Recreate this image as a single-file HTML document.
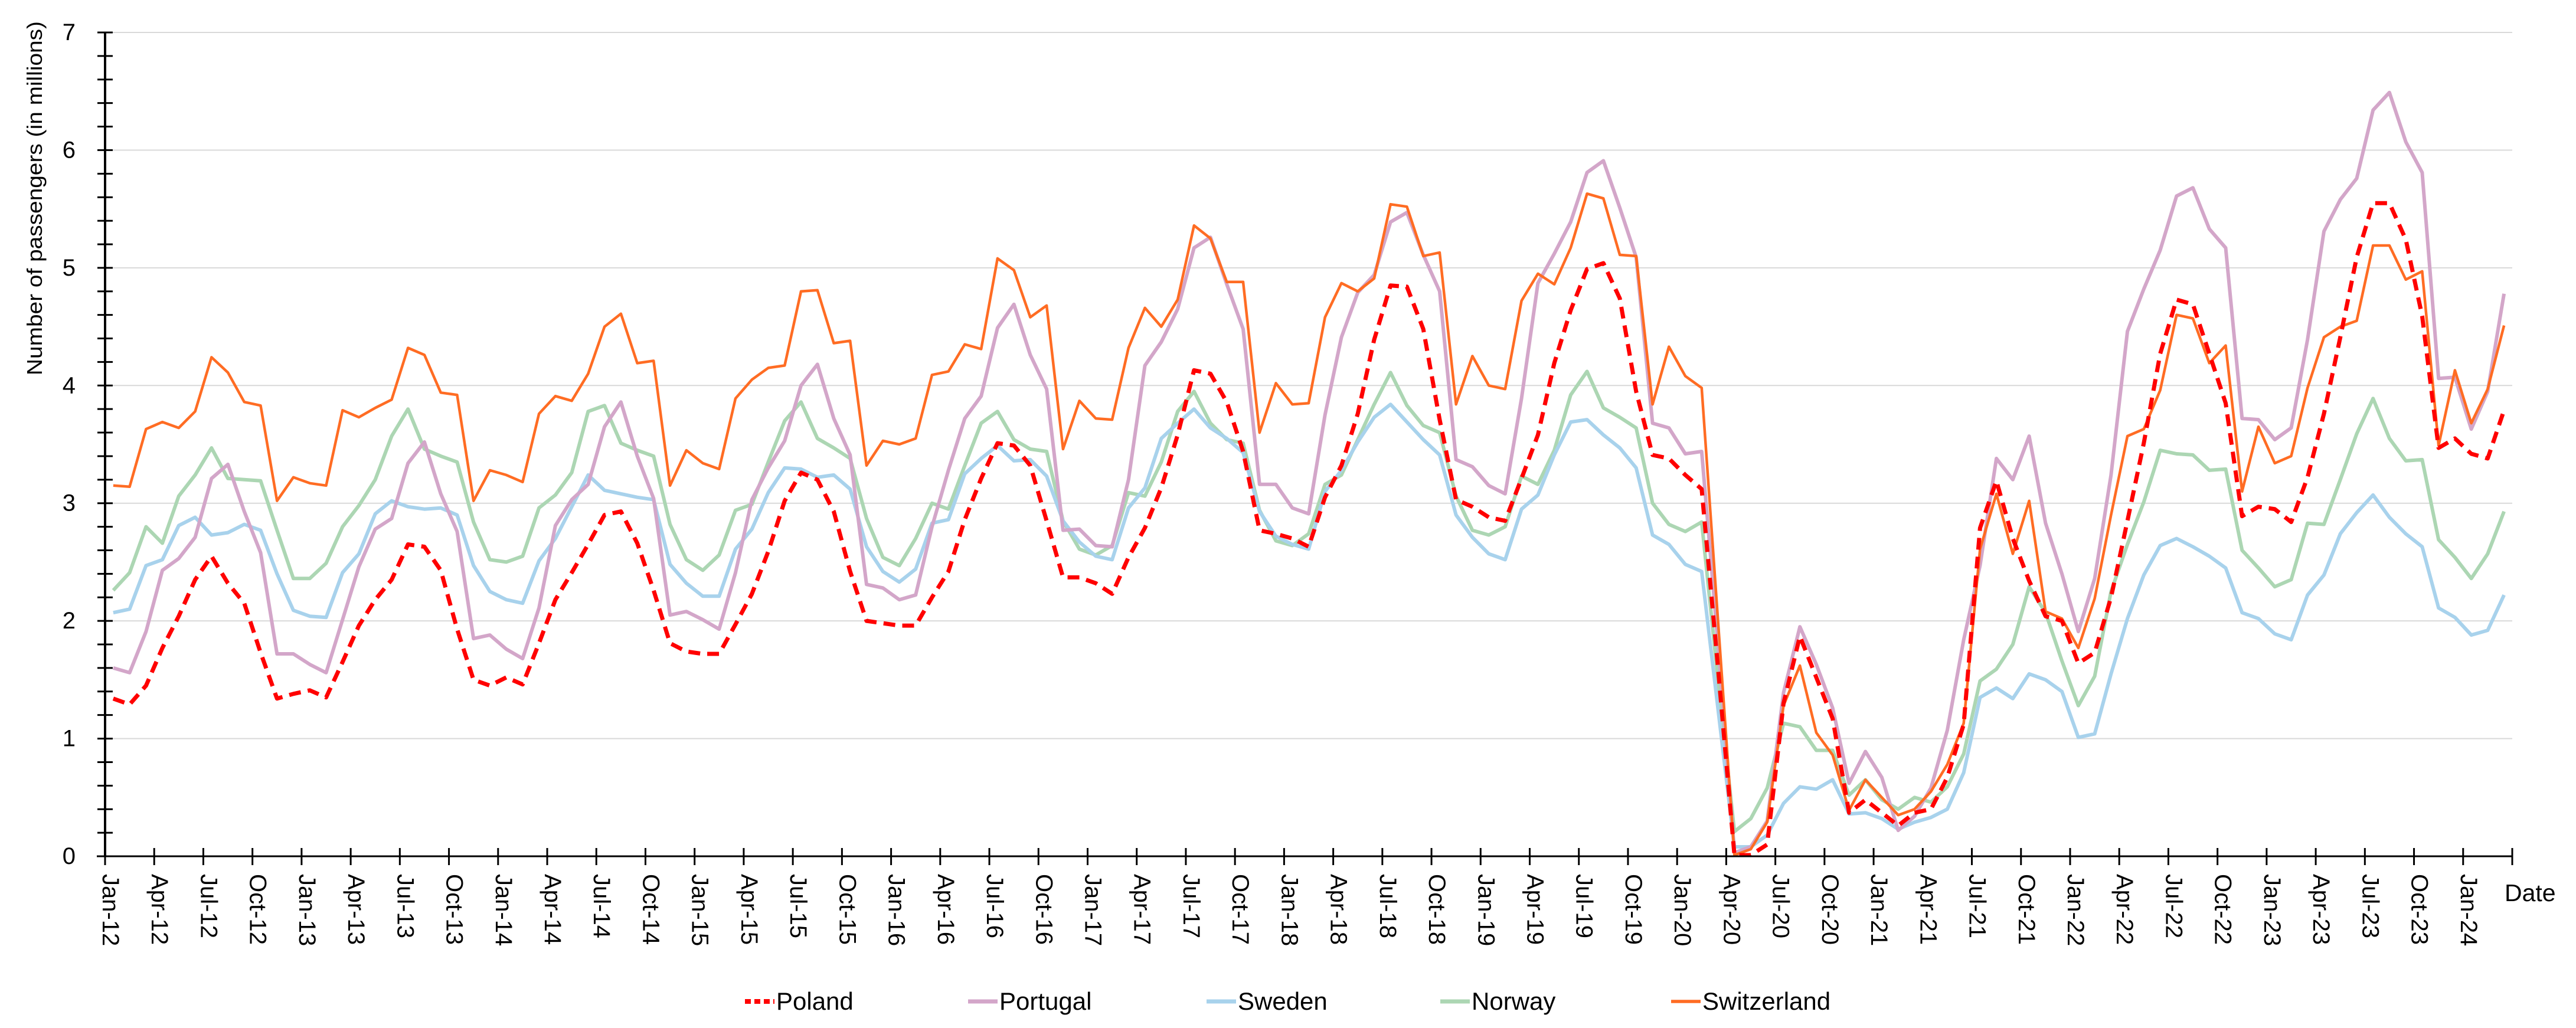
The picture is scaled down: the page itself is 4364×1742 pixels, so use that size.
<!DOCTYPE html>
<html><head><meta charset="utf-8"><style>
html,body{margin:0;padding:0;background:#fff;}
svg{display:block;font-family:"Liberation Sans",sans-serif;}
</style></head><body>
<svg id="chart" width="4364" height="1742" viewBox="0 0 4364 1742" xmlns="http://www.w3.org/2000/svg">
<g id="grid"></g>
<g id="series"></g>
<g id="axes"></g>
<text transform="translate(71,336) rotate(-90)" text-anchor="middle" font-size="36" textLength="600" lengthAdjust="spacingAndGlyphs">Number of passengers (in millions)</text>
<text x="4243" y="1527" font-size="41">Date</text>
<g id="legend"></g>
</svg>
<script>
const seriesNames = ["Poland","Portugal","Sweden","Norway","Switzerland"];
const yTicks = [0,1,2,3,4,5,6,7];
const monthNames = ["Jan","Apr","Jul","Oct"];
const poland = [1.34,1.29,1.45,1.77,2.04,2.35,2.55,2.32,2.15,1.73,1.34,1.38,1.41,1.35,1.65,1.96,2.18,2.35,2.65,2.63,2.43,1.93,1.50,1.45,1.52,1.46,1.81,2.18,2.41,2.65,2.90,2.93,2.66,2.26,1.81,1.74,1.72,1.72,
1.97,2.23,2.59,3.02,3.26,3.20,2.93,2.42,2.00,1.98,1.96,1.96,2.20,2.42,2.86,3.21,3.51,3.49,3.32,2.85,2.37,2.37,2.32,2.23,2.54,2.79,3.13,3.58,4.13,4.10,3.86,3.44,2.77,2.74,2.70,2.63,3.05,
3.32,3.76,4.39,4.85,4.84,4.48,3.71,3.03,2.97,2.88,2.85,3.21,3.58,4.19,4.64,4.99,5.04,4.74,3.95,3.41,3.38,3.24,3.12,1.6,0.01,0.01,0.10,1.30,1.87,1.52,1.17,0.37,0.48,0.37,0.26,0.37,
0.40,0.67,1.12,2.79,3.19,2.70,2.34,2.04,2.00,1.64,1.73,2.20,2.85,3.51,4.27,4.73,4.69,4.27,3.85,2.89,2.97,2.95,2.84,3.22,3.76,4.41,5.09,5.55,5.55,5.24,4.59,3.47,3.55,3.42,3.38,3.79];
const portugal = [1.60,1.56,1.91,2.43,2.53,2.71,3.21,3.33,2.93,2.58,1.72,1.72,1.63,1.56,2.01,2.46,2.78,2.87,3.34,3.52,3.08,2.76,1.85,1.88,1.76,1.68,2.11,2.81,3.03,3.16,3.65,3.86,3.40,3.04,2.05,2.08,2.01,1.93,
2.41,3.03,3.30,3.53,4.00,4.18,3.72,3.41,2.31,2.28,2.18,2.22,2.80,3.28,3.72,3.91,4.49,4.69,4.26,3.97,2.77,2.78,2.64,2.63,3.20,4.17,4.37,4.65,5.17,5.26,4.86,4.48,3.16,3.16,2.96,2.91,3.75,
4.41,4.79,4.94,5.39,5.47,5.11,4.80,3.37,3.31,3.15,3.08,3.89,4.87,5.12,5.39,5.81,5.91,5.51,5.09,3.68,3.64,3.42,3.44,1.8,0.03,0.08,0.30,1.39,1.95,1.63,1.26,0.62,0.89,0.67,0.22,0.34,
0.58,1.07,1.84,2.47,3.38,3.20,3.57,2.83,2.40,1.91,2.36,3.24,4.46,4.82,5.15,5.61,5.68,5.33,5.17,3.72,3.71,3.54,3.64,4.39,5.31,5.58,5.76,6.34,6.49,6.07,5.81,4.06,4.07,3.63,3.95,4.78];
const sweden = [2.07,2.10,2.47,2.52,2.81,2.88,2.73,2.75,2.82,2.77,2.40,2.09,2.04,2.03,2.41,2.57,2.91,3.02,2.97,2.95,2.96,2.90,2.47,2.25,2.18,2.15,2.51,2.70,2.97,3.24,3.11,3.08,3.05,3.03,2.48,2.32,2.21,2.21,
2.61,2.78,3.09,3.30,3.29,3.22,3.24,3.12,2.63,2.42,2.33,2.44,2.83,2.86,3.25,3.38,3.49,3.36,3.37,3.23,2.85,2.67,2.55,2.52,2.96,3.13,3.55,3.68,3.80,3.64,3.55,3.43,2.93,2.72,2.65,2.61,3.10,
3.28,3.52,3.73,3.84,3.69,3.54,3.41,2.90,2.71,2.57,2.52,2.95,3.07,3.41,3.69,3.71,3.58,3.47,3.30,2.73,2.65,2.48,2.42,1.25,0.08,0.08,0.18,0.45,0.59,0.57,0.65,0.36,0.37,0.32,0.23,0.29,
0.33,0.40,0.71,1.35,1.43,1.34,1.55,1.50,1.40,1.01,1.04,1.55,2.02,2.39,2.64,2.70,2.63,2.55,2.45,2.07,2.02,1.89,1.84,2.22,2.39,2.74,2.92,3.07,2.88,2.74,2.63,2.11,2.03,1.88,1.92,2.22];
const norway = [2.26,2.41,2.80,2.66,3.06,3.24,3.47,3.21,3.20,3.19,2.77,2.36,2.36,2.49,2.80,2.98,3.20,3.57,3.80,3.46,3.40,3.35,2.84,2.52,2.50,2.55,2.96,3.07,3.26,3.78,3.83,3.51,3.45,3.40,2.82,2.52,2.43,2.56,
2.94,2.99,3.35,3.70,3.86,3.55,3.47,3.38,2.87,2.54,2.47,2.70,3.00,2.95,3.32,3.68,3.78,3.54,3.46,3.44,2.85,2.61,2.56,2.64,3.09,3.06,3.35,3.78,3.95,3.68,3.54,3.51,2.94,2.68,2.64,2.74,3.16,
3.24,3.54,3.84,4.11,3.83,3.66,3.60,3.06,2.77,2.73,2.80,3.23,3.16,3.45,3.92,4.12,3.81,3.73,3.64,3.00,2.82,2.76,2.84,1.5,0.21,0.32,0.58,1.13,1.10,0.90,0.90,0.52,0.65,0.48,0.40,0.50,
0.46,0.59,0.87,1.49,1.59,1.80,2.29,2.07,1.66,1.28,1.53,2.25,2.65,3.01,3.45,3.42,3.41,3.28,3.29,2.60,2.45,2.29,2.35,2.83,2.82,3.20,3.59,3.89,3.55,3.36,3.37,2.69,2.54,2.36,2.57,2.93];
const switzerland = [3.15,3.14,3.63,3.69,3.64,3.78,4.24,4.11,3.86,3.83,3.02,3.22,3.17,3.15,3.79,3.73,3.81,3.88,4.32,4.26,3.94,3.92,3.02,3.28,3.24,3.18,3.76,3.91,3.87,4.10,4.50,4.61,4.19,4.21,3.15,3.45,3.34,3.29,
3.89,4.05,4.15,4.17,4.80,4.81,4.36,4.38,3.32,3.53,3.50,3.55,4.09,4.12,4.35,4.31,5.08,4.98,4.58,4.68,3.46,3.87,3.72,3.71,4.32,4.66,4.50,4.73,5.36,5.25,4.88,4.88,3.60,4.02,3.84,3.85,4.58,
4.87,4.80,4.91,5.54,5.52,5.10,5.13,3.84,4.25,4.00,3.97,4.72,4.95,4.86,5.17,5.63,5.59,5.11,5.10,3.84,4.33,4.08,3.98,2.0,0.01,0.06,0.29,1.28,1.62,1.05,0.86,0.39,0.65,0.50,0.35,0.40,
0.55,0.78,1.13,2.61,3.08,2.57,3.02,2.08,2.02,1.77,2.19,2.90,3.57,3.63,3.96,4.60,4.57,4.19,4.34,3.10,3.65,3.34,3.40,3.98,4.41,4.50,4.55,5.19,5.19,4.90,4.97,3.49,4.13,3.68,3.97,4.51];

const NS="http://www.w3.org/2000/svg";
const X0=178, X1=4256, Y0=1451, Y7=55, nCat=poland.length;
const catW=(X1-X0)/nCat;
function xPos(i){return X0+(i+0.5)*catW;}
function xEdge(i){return X0+i*catW;}
function yPos(v){return Y0-(v/7)*(Y0-Y7);}
function mk(tag,attrs,parent){const e=document.createElementNS(NS,tag);for(const k in attrs)e.setAttribute(k,attrs[k]);parent.appendChild(e);return e;}

const grid=document.getElementById('grid'), axes=document.getElementById('axes'), ser=document.getElementById('series'), leg=document.getElementById('legend');
yTicks.forEach(t=>{
  if(t>0){const g=mk('line',{x1:X0,x2:X1,y1:yPos(t),y2:yPos(t),stroke:'#d9d9d9','stroke-width':2},grid);
  
  }
  const lb=mk('text',{x:128,y:yPos(t),'text-anchor':'end','dominant-baseline':'central','font-size':40},axes);
  lb.textContent=t;
  
  
});
for(let k=0;k<=35;k++){const v=k*0.2;mk('line',{x1:165,x2:191,y1:yPos(v),y2:yPos(v),stroke:'#000','stroke-width':3},axes);}
mk('line',{x1:X0,x2:X0,y1:Y7,y2:Y0,stroke:'#000','stroke-width':4},axes);
mk('line',{x1:X0-14,x2:X1,y1:Y0,y2:Y0,stroke:'#000','stroke-width':3},axes);
for(let m=0;m<=nCat;m+=3){
  const x=xEdge(m);
  mk('line',{x1:x,x2:x,y1:1437,y2:1466,stroke:'#000','stroke-width':3},axes);
  if(m<nCat){
    const yr=12+Math.floor(m/12);
    const lb=mk('text',{transform:'translate('+(x-4)+',1481) rotate(90)','font-size':40},axes);
    lb.textContent=monthNames[(m%12)/3]+'-'+yr;
    
    
  }
}
const styles=[
 {data:poland,color:'#ff0000',w:7,dash:'20 12'},
 {data:portugal,color:'#d3a6c9',w:6,dash:''},
 {data:sweden,color:'#a8d2ec',w:6,dash:''},
 {data:norway,color:'#acd6b3',w:6,dash:''},
 {data:switzerland,color:'#ff6c23',w:4.5,dash:''}];
const drawOrder=[3,2,1,4,0];
drawOrder.forEach(si=>{
  const s=styles[si];
  const d=s.data.map((v,i)=>(i?'L':'M')+xPos(i).toFixed(1)+','+yPos(v).toFixed(1)).join(' ');
  const p=mk('path',{d:d,fill:'none',stroke:s.color,'stroke-width':s.w,'stroke-linejoin':'round'},ser);
  if(s.dash)p.setAttribute('stroke-dasharray',s.dash);
  
  
});
const legX=[1262,1640,2044,2440,2831];
seriesNames.forEach((n,i)=>{
  const s=styles[i];
  const g=mk('g',{},leg);
  
  
  const l=mk('line',{x1:legX[i],x2:legX[i]+50,y1:1697,y2:1697,stroke:s.color,'stroke-width':s.w+1},g);
  if(s.dash)l.setAttribute('stroke-dasharray','10 6');
  const t=mk('text',{x:legX[i]+53,y:1711,'font-size':42},g);
  t.textContent=n;
});
</script>
</body></html>
